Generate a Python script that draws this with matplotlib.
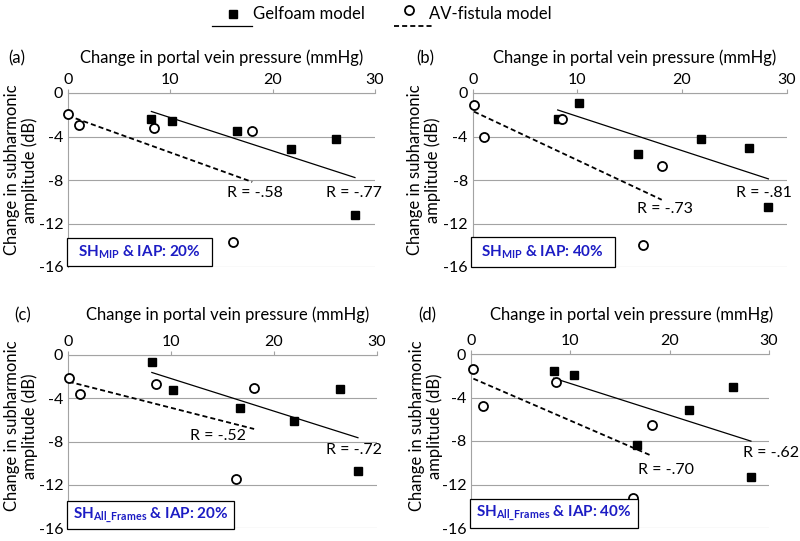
import matplotlib
matplotlib.use("Agg")
import matplotlib.pyplot as plt
import numpy as np
from matplotlib.lines import Line2D
from matplotlib.patches import Rectangle

plt.rcParams['font.family'] = ['Lato', 'DejaVu Sans']
plt.rcParams['axes.unicode_minus'] = False
plt.rcParams['mathtext.fontset'] = 'custom'
plt.rcParams['mathtext.rm'] = 'Lato'
plt.rcParams['mathtext.bf'] = 'Lato:bold'
plt.rcParams['mathtext.it'] = 'Lato:italic'

# ---------------- data ----------------
panel_ids = ["(a)", "(b)", "(c)", "(d)"]
box_texts = [r"SH$_{\mathbf{MIP}}$ & IAP: 20%",
             r"SH$_{\mathbf{MIP}}$ & IAP: 40%",
             r"SH$_{\mathbf{All\_Frames}}$ & IAP: 20%",
             r"SH$_{\mathbf{All\_Frames}}$ & IAP: 40%"]

gel_x_a = [8.15, 10.17, 16.56, 21.78, 26.18, 28.04]
gel_y_a = [-2.37, -2.6, -3.54, -5.14, -4.25, -11.23]
av_x_a = [0.0, 1.04, 8.41, 18.0, 16.17]
av_y_a = [-1.9, -2.92, -3.26, -3.45, -13.66]

gel_x_b = [8.12, 10.16, 15.76, 21.8, 26.4, 28.25]
gel_y_b = [-2.4, -0.92, -5.63, -4.25, -5.08, -10.52]
av_x_b = [0.13, 1.11, 8.57, 18.06, 16.24]
av_y_b = [-1.14, -4.0, -2.37, -6.71, -14.0]

gel_x_c = [8.14, 10.22, 16.7, 21.9, 26.37, 28.15]
gel_y_c = [-0.62, -3.23, -4.86, -6.06, -3.11, -10.71]
av_x_c = [0.06, 1.14, 8.5, 18.07, 16.28]
av_y_c = [-2.09, -3.63, -2.68, -3.08, -11.48]

gel_x_d = [8.32, 10.34, 16.67, 21.99, 26.4, 28.18]
gel_y_d = [-1.6, -1.93, -8.36, -5.13, -3.04, -11.34]
av_x_d = [0.24, 1.25, 8.59, 18.18, 16.3]
av_y_d = [-1.35, -4.82, -2.58, -6.51, -13.21]

r_gel = ["R = -.77", "R = -.81", "R = -.72", "R = -.62"]
r_av = ["R = -.58", "R = -.73", "R = -.52", "R = -.70"]

x_ticks = [0, 10, 20, 30]
y_ticks = [0, -4, -8, -12, -16]

gel_x = [gel_x_a, gel_x_b, gel_x_c, gel_x_d]
gel_y = [gel_y_a, gel_y_b, gel_y_c, gel_y_d]
av_x = [av_x_a, av_x_b, av_x_c, av_x_d]
av_y = [av_y_a, av_y_b, av_y_c, av_y_d]

# ---------------- layout ----------------
W, H = 800, 541
fig = plt.figure(figsize=(W / 100, H / 100), dpi=100)

def px_rect(l, t, r, b):
    return [l / W, 1 - b / H, (r - l) / W, (b - t) / H]

axes_px = [(68, 93, 375, 267), (472.7, 93, 786.7, 267),
           (68, 355, 377, 528), (471, 354, 769, 528)]
label_px = [(17, 58), (425, 58), (23, 315), (427, 315)]
title_px = [(222, 58), (635, 58), (228, 315), (632, 315)]
ylabel_px = [(21, 170), (424, 170), (21, 426), (426, 426)]
rgel_pos = [(27.9, -9.17), (27.8, -9.17), (27.8, -8.77), (30.2, -9.06)]
rav_pos = [(18.26, -9.17), (18.4, -10.7), (14.6, -7.45), (19.6, -10.66)]
box_px = [(67, 238, 212, 266), (470.7, 237, 615, 267),
          (67, 501, 234, 529), (470, 499, 638, 528)]

grid_col = '#a3a3a3'
blue = '#1c1cc4'
fs = 11.5

for i in range(4):
    l, t, r, b = axes_px[i]
    ax = fig.add_axes(px_rect(l, t, r, b))
    ax.set_xlim(0, 30)
    ax.set_ylim(-16, 0)
    ax.xaxis.tick_top()
    ax.set_xticks(x_ticks)
    ax.set_yticks(y_ticks)
    ax.tick_params(axis='x', direction='out', length=3, color=grid_col,
                   labelsize=fs, pad=1.5)
    ax.tick_params(axis='y', length=0, labelsize=fs, pad=3.5)
    ax.yaxis.grid(True, color=grid_col, lw=0.8)
    ax.set_axisbelow(True)
    for s in ['right', 'bottom']:
        ax.spines[s].set_visible(False)
    for s in ['top', 'left']:
        ax.spines[s].set_color(grid_col)
        ax.spines[s].set_linewidth(0.8)

    # trendlines (least-squares fits of each series)
    gx, gy = np.array(gel_x[i]), np.array(gel_y[i])
    p = np.polyfit(gx, gy, 1)
    xs = np.array([gx.min(), gx.max()])
    ax.plot(xs, np.polyval(p, xs), color='black', lw=0.9, zorder=3)
    axx, ayy = np.array(av_x[i]), np.array(av_y[i])
    p2 = np.polyfit(axx, ayy, 1)
    xs2 = np.array([axx.min(), axx.max()])
    ax.plot(xs2, np.polyval(p2, xs2), color='black', lw=1.3,
            linestyle=(0, (2.8, 1.7)), zorder=3)

    # points
    ax.plot(gx, gy, linestyle='none', marker='s', ms=5.5, color='black',
            clip_on=False, zorder=6)
    ax.plot(axx, ayy, linestyle='none', marker='o', ms=6.5, mfc='white',
            mec='black', mew=1.3, clip_on=False, zorder=6)

    # R labels
    ax.text(*rgel_pos[i], r_gel[i], ha='center', va='center', fontsize=fs)
    ax.text(*rav_pos[i], r_av[i], ha='center', va='center', fontsize=fs)

    # box
    bl, bt, br, bb = box_px[i]
    rect = Rectangle((bl / W, 1 - bb / H), (br - bl) / W, (bb - bt) / H,
                     transform=fig.transFigure, facecolor='white',
                     edgecolor='black', lw=0.9, zorder=5)
    fig.add_artist(rect)
    fig.text((bl + br) / 2 / W, 1 - (bt + bb) / 2 / H, box_texts[i],
             ha='center', va='center', fontsize=11, fontweight='bold',
             color=blue, zorder=6)

    # labels
    fig.text(label_px[i][0] / W, 1 - label_px[i][1] / H, panel_ids[i],
             ha='center', va='center', fontsize=12)
    fig.text(title_px[i][0] / W, 1 - title_px[i][1] / H,
             "Change in portal vein pressure (mmHg)",
             ha='center', va='center', fontsize=12)
    fig.text(ylabel_px[i][0] / W, 1 - ylabel_px[i][1] / H,
             "Change in subharmonic\namplitude (dB)", rotation=90,
             ha='center', va='center', fontsize=12, multialignment='center',
             linespacing=1.1)

# ---------------- legend ----------------
def fx(x):
    return x / W

def fy(y):
    return 1 - y / H

fig.add_artist(Line2D([fx(233)], [fy(14)], marker='s', ms=5.5, color='black',
                      linestyle='none', transform=fig.transFigure))
fig.add_artist(Line2D([fx(212), fx(252)], [fy(26), fy(26)], color='black',
                      lw=0.9, transform=fig.transFigure))
fig.text(fx(253), fy(14), "Gelfoam model", ha='left', va='center', fontsize=12)
fig.add_artist(Line2D([fx(409)], [fy(10)], marker='o', ms=6.5, mfc='white',
                      mec='black', mew=1.3, linestyle='none',
                      transform=fig.transFigure))
fig.add_artist(Line2D([fx(394), fx(434)], [fy(26), fy(26)], color='black',
                      lw=1.3, linestyle=(0, (2.8, 1.7)),
                      transform=fig.transFigure))
fig.text(fx(429), fy(14), "AV-fistula model", ha='left', va='center',
         fontsize=12)

fig.savefig("out.png", dpi=100)
